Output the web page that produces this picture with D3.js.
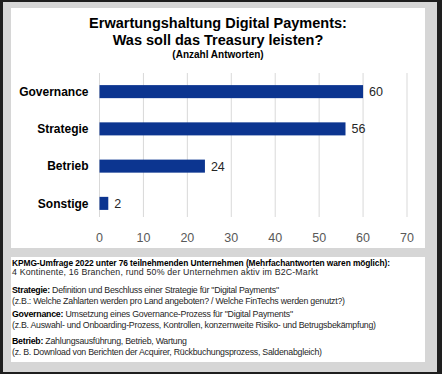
<!DOCTYPE html>
<html>
<head>
<meta charset="utf-8">
<script src="https://cdn.jsdelivr.net/npm/d3@7"></script>
<style>
    body { margin: 0; background: #fff; }
    svg { display: block; font-family: "Liberation Sans", Arial, sans-serif; }
</style>
</head>
<body>
<div id="chart"></div>
<script>
// data
var categories = ["Governance", "Strategie", "Betrieb", "Sonstige"];
var values = [60, 56, 24, 2];
var ticks = [0, 10, 20, 30, 40, 50, 60, 70];

var titleLines = ["Erwartungshaltung Digital Payments:", "Was soll das Treasury leisten?"];
var subTitle = "(Anzahl Antworten)";

// notes: [bold part, regular part]
var notes = [
    ["KPMG-Umfrage 2022 unter 76 teilnehmenden Unternehmen (Mehrfachantworten waren möglich):", ""],
    ["", "4 Kontinente, 16 Branchen, rund 50% der Unternehmen aktiv im B2C-Markt"],
    ["Strategie:", " Definition und Beschluss einer Strategie für \"Digital Payments\""],
    ["", "(z.B.: Welche Zahlarten werden pro Land angeboten? / Welche FinTechs werden genutzt?)"],
    ["Governance:", " Umsetzung eines Governance-Prozess für \"Digital Payments\""],
    ["", "(z.B. Auswahl- und Onboarding-Prozess, Kontrollen, konzernweite Risiko- und Betrugsbekämpfung)"],
    ["Betrieb:", " Zahlungsausführung, Betrieb, Wartung"],
    ["", "(z. B. Download von Berichten der Acquirer, Rückbuchungsprozess, Saldenabgleich)"]
];
var noteBaselines = [265.5, 275, 293, 304, 317, 328, 344, 355];
var noteWidths = [378, 306, 267, 333, 281, 364, 175, 310];

var W = 442, H = 374;
var svg = d3.select("#chart").append("svg")
    .attr("width", W)
    .attr("height", H);

// frame
svg.append("rect").attr("x", 0).attr("y", 0).attr("width", W).attr("height", H).attr("fill", "#1e1e1e");
svg.append("rect").attr("x", 3).attr("y", 2).attr("width", 434).attr("height", 370).attr("fill", "#d6d6d6");
svg.append("rect").attr("x", 11).attr("y", 8).attr("width", 414).attr("height", 240).attr("fill", "#fff");
svg.append("rect").attr("x", 11).attr("y", 257).attr("width", 414).attr("height", 105).attr("fill", "#fff");

// title
svg.selectAll(".title").data(titleLines).enter().append("text")
    .attr("class", "title")
    .attr("x", 218)
    .attr("y", function (d, i) { return 28 + i * 17; })
    .attr("text-anchor", "middle")
    .attr("font-size", "14.5px")
    .attr("font-weight", "bold")
    .attr("fill", "#000")
    .text(function (d) { return d; });

svg.append("text")
    .attr("x", 218)
    .attr("y", 58)
    .attr("text-anchor", "middle")
    .attr("font-size", "10px")
    .attr("font-weight", "bold")
    .attr("fill", "#000")
    .text(subTitle);

// scales
var x = d3.scaleLinear().domain([0, 70]).range([99.5, 407]);
var y = d3.scaleBand().domain(categories).range([73, 222]).paddingInner(0.65).paddingOuter(0.325);

// grid
svg.selectAll(".grid").data(ticks).enter().append("line")
    .attr("class", "grid")
    .attr("x1", function (d) { return x(d); })
    .attr("x2", function (d) { return x(d); })
    .attr("y1", 73)
    .attr("y2", 217)
    .attr("stroke", "#d9d9d9")
    .attr("stroke-width", 1);

// axis labels
svg.selectAll(".tick-label").data(ticks).enter().append("text")
    .attr("class", "tick-label")
    .attr("x", function (d) { return x(d); })
    .attr("y", 241.5)
    .attr("text-anchor", "middle")
    .attr("font-size", "12.5px")
    .attr("fill", "#595959")
    .text(function (d) { return d; });

// bars
svg.selectAll(".bar").data(values).enter().append("rect")
    .attr("class", "bar")
    .attr("x", x(0))
    .attr("y", function (d, i) { return y(categories[i]); })
    .attr("width", function (d) { return x(d) - x(0); })
    .attr("height", y.bandwidth())
    .attr("fill", "#0c3590");

// value labels
svg.selectAll(".val").data(values).enter().append("text")
    .attr("class", "val")
    .attr("x", function (d) { return x(d) + 6; })
    .attr("y", function (d, i) { return y(categories[i]) + y.bandwidth() / 2; })
    .attr("dy", "0.36em")
    .attr("font-size", "12.5px")
    .attr("fill", "#262626")
    .text(function (d) { return d; });

// category labels
svg.selectAll(".cat").data(categories).enter().append("text")
    .attr("class", "cat")
    .attr("x", 88.5)
    .attr("y", function (d) { return y(d) + y.bandwidth() / 2; })
    .attr("dy", "0.36em")
    .attr("text-anchor", "end")
    .attr("font-size", "12px")
    .attr("font-weight", "bold")
    .attr("fill", "#000")
    .text(function (d) { return d; });

// notes
var noteText = svg.selectAll(".note").data(notes).enter().append("text")
    .attr("class", "note")
    .attr("x", 12)
    .attr("y", function (d, i) { return noteBaselines[i]; })
    .style("font-size", function (d, i) { return i === 0 ? "8.4px" : "8.8px"; })
    .attr("fill", "#262626")
    .attr("textLength", function (d, i) { return noteWidths[i]; })
    .attr("lengthAdjust", "spacing");

noteText.append("tspan")
    .attr("font-weight", "bold")
    .attr("fill", "#000")
    .text(function (d) { return d[0]; });
noteText.append("tspan")
    .text(function (d) { return d[1]; });
</script>
</body>
</html>
